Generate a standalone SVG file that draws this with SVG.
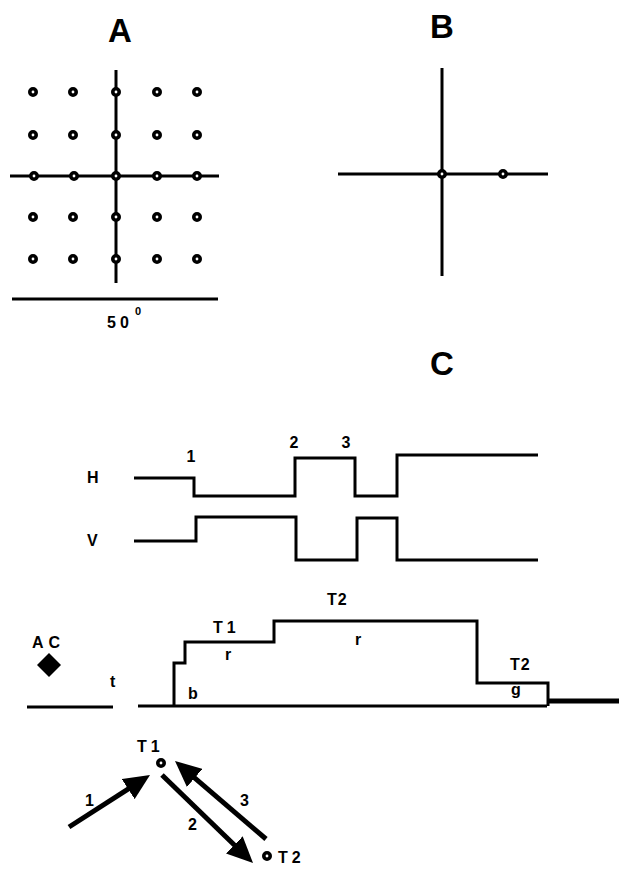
<svg xmlns="http://www.w3.org/2000/svg" width="619" height="869" viewBox="0 0 619 869">
  <style>
    .ln { stroke: #000; stroke-width: 3; fill: none; stroke-linejoin: miter; }
    .dot { stroke: #000; stroke-width: 3.6; fill: #fff; }
    .lbl { font-family: "Liberation Sans", Arial, sans-serif; font-weight: bold; fill: #000; }
    .big { font-size: 33px; text-anchor: middle; }
    .sm { font-size: 16px; }
    .arw { stroke: #000; stroke-width: 5; fill: none; }
  </style>
  <defs>
    <marker id="head" markerUnits="userSpaceOnUse" markerWidth="26" markerHeight="24" refX="4" refY="12" orient="auto">
      <path d="M0,0 L26,12 L0,24 z" fill="#000"/>
    </marker>
  </defs>
  <rect width="619" height="869" fill="#fff"/>

  <!-- Panel A: 5x5 target grid with crosshair and scale bar -->
  <g id="panelA">
    <text class="lbl big" x="120" y="42">A</text>
    <line class="ln" x1="116" y1="70" x2="116" y2="283"/>
    <line class="ln" x1="10" y1="176" x2="219" y2="176"/>
    <g id="gridDots">
      <circle class="dot" cx="33" cy="92" r="3.2"/><circle class="dot" cx="73" cy="92" r="3.2"/><circle class="dot" cx="116" cy="92" r="3.2"/><circle class="dot" cx="157" cy="92" r="3.2"/><circle class="dot" cx="197" cy="92" r="3.2"/>
      <circle class="dot" cx="33" cy="135" r="3.2"/><circle class="dot" cx="73" cy="135" r="3.2"/><circle class="dot" cx="116" cy="135" r="3.2"/><circle class="dot" cx="157" cy="135" r="3.2"/><circle class="dot" cx="197" cy="135" r="3.2"/>
      <circle class="dot" cx="34" cy="176" r="3.2"/><circle class="dot" cx="74" cy="176" r="3.2"/><circle class="dot" cx="116" cy="176" r="3.2"/><circle class="dot" cx="157" cy="176" r="3.2"/><circle class="dot" cx="197" cy="176" r="3.2"/>
      <circle class="dot" cx="33" cy="217" r="3.2"/><circle class="dot" cx="73" cy="217" r="3.2"/><circle class="dot" cx="116" cy="217" r="3.2"/><circle class="dot" cx="157" cy="217" r="3.2"/><circle class="dot" cx="197" cy="217" r="3.2"/>
      <circle class="dot" cx="33" cy="259" r="3.2"/><circle class="dot" cx="73" cy="259" r="3.2"/><circle class="dot" cx="116" cy="259" r="3.2"/><circle class="dot" cx="157" cy="259" r="3.2"/><circle class="dot" cx="197" cy="259" r="3.2"/>
    </g>
    <line class="ln" x1="12" y1="299" x2="218" y2="299"/>
    <text class="lbl sm" x="107" y="328" letter-spacing="4">50</text>
    <text class="lbl" x="135" y="315" font-size="11">0</text>
  </g>

  <!-- Panel B: crosshair with two targets -->
  <g id="panelB">
    <text class="lbl big" x="442" y="38">B</text>
    <line class="ln" x1="442" y1="68" x2="442" y2="276"/>
    <line class="ln" x1="338" y1="174" x2="548" y2="174"/>
    <circle class="dot" cx="442" cy="174" r="3.2"/>
    <circle class="dot" cx="503" cy="174" r="3.2"/>
  </g>

  <!-- Panel C -->
  <text class="lbl big" x="442" y="375">C</text>

  <!-- Horizontal and vertical position traces -->
  <g id="traceH">
    <text class="lbl" x="87" y="483" font-size="16">H</text>
    <path class="ln" d="M134,478 H194 V496 H295 V458 H355 V496 H397 V455 H538"/>
    <text class="lbl" x="191" y="462" font-size="16" text-anchor="middle">1</text>
    <text class="lbl" x="294" y="448" font-size="16" text-anchor="middle">2</text>
    <text class="lbl" x="346" y="448" font-size="16" text-anchor="middle">3</text>
  </g>
  <g id="traceV">
    <text class="lbl" x="87" y="546" font-size="16">V</text>
    <path class="ln" d="M134,541 H196 V517 H296 V560 H357 V518 H397 V560 H538"/>
  </g>

  <!-- Event trace with stimulus markers -->
  <g id="eventTrace">
    <text class="lbl sm" x="32" y="648" letter-spacing="5">AC</text>
    <path d="M49,653 L61,665 L49,677 L37,665 z" fill="#000"/>
    <text class="lbl sm" x="110" y="687">t</text>
    <line class="ln" x1="27" y1="707" x2="113" y2="707"/>
    <path class="ln" d="M138,706 H547"/>
    <path class="ln" d="M174,706 V663 H185 V642 H274 V621 H477 V683 H548 V706"/>
    <line x1="547" y1="701" x2="619" y2="701" stroke="#000" stroke-width="5"/>
    <text class="lbl sm" x="213" y="633" letter-spacing="4">T1</text>
    <text class="lbl sm" x="225" y="660">r</text>
    <text class="lbl sm" x="188" y="699">b</text>
    <text class="lbl sm" x="327" y="605" letter-spacing="1">T2</text>
    <text class="lbl sm" x="355" y="645">r</text>
    <text class="lbl sm" x="510" y="670" letter-spacing="1">T2</text>
    <text class="lbl sm" x="511" y="695">g</text>
  </g>

  <!-- Target sequence -->
  <g id="targetT1">
    <text class="lbl sm" x="137" y="752" letter-spacing="4">T1</text>
    <circle class="dot" cx="161" cy="763" r="3.2"/>
  </g>
  <g id="targetT2">
    <circle class="dot" cx="267" cy="856" r="3.2"/>
    <text class="lbl sm" x="278" y="863" letter-spacing="4">T2</text>
  </g>
  <g id="connectors">
    <line class="arw" x1="69" y1="827" x2="131.5" y2="786.9" marker-end="url(#head)"/>
    <line class="arw" x1="162" y1="775" x2="237.2" y2="847.7" marker-end="url(#head)"/>
    <line class="arw" x1="266" y1="839" x2="191.7" y2="775.3" marker-end="url(#head)"/>
    <text class="lbl sm" x="85" y="806">1</text>
    <text class="lbl sm" x="188" y="830">2</text>
    <text class="lbl sm" x="240" y="806">3</text>
  </g>
</svg>
